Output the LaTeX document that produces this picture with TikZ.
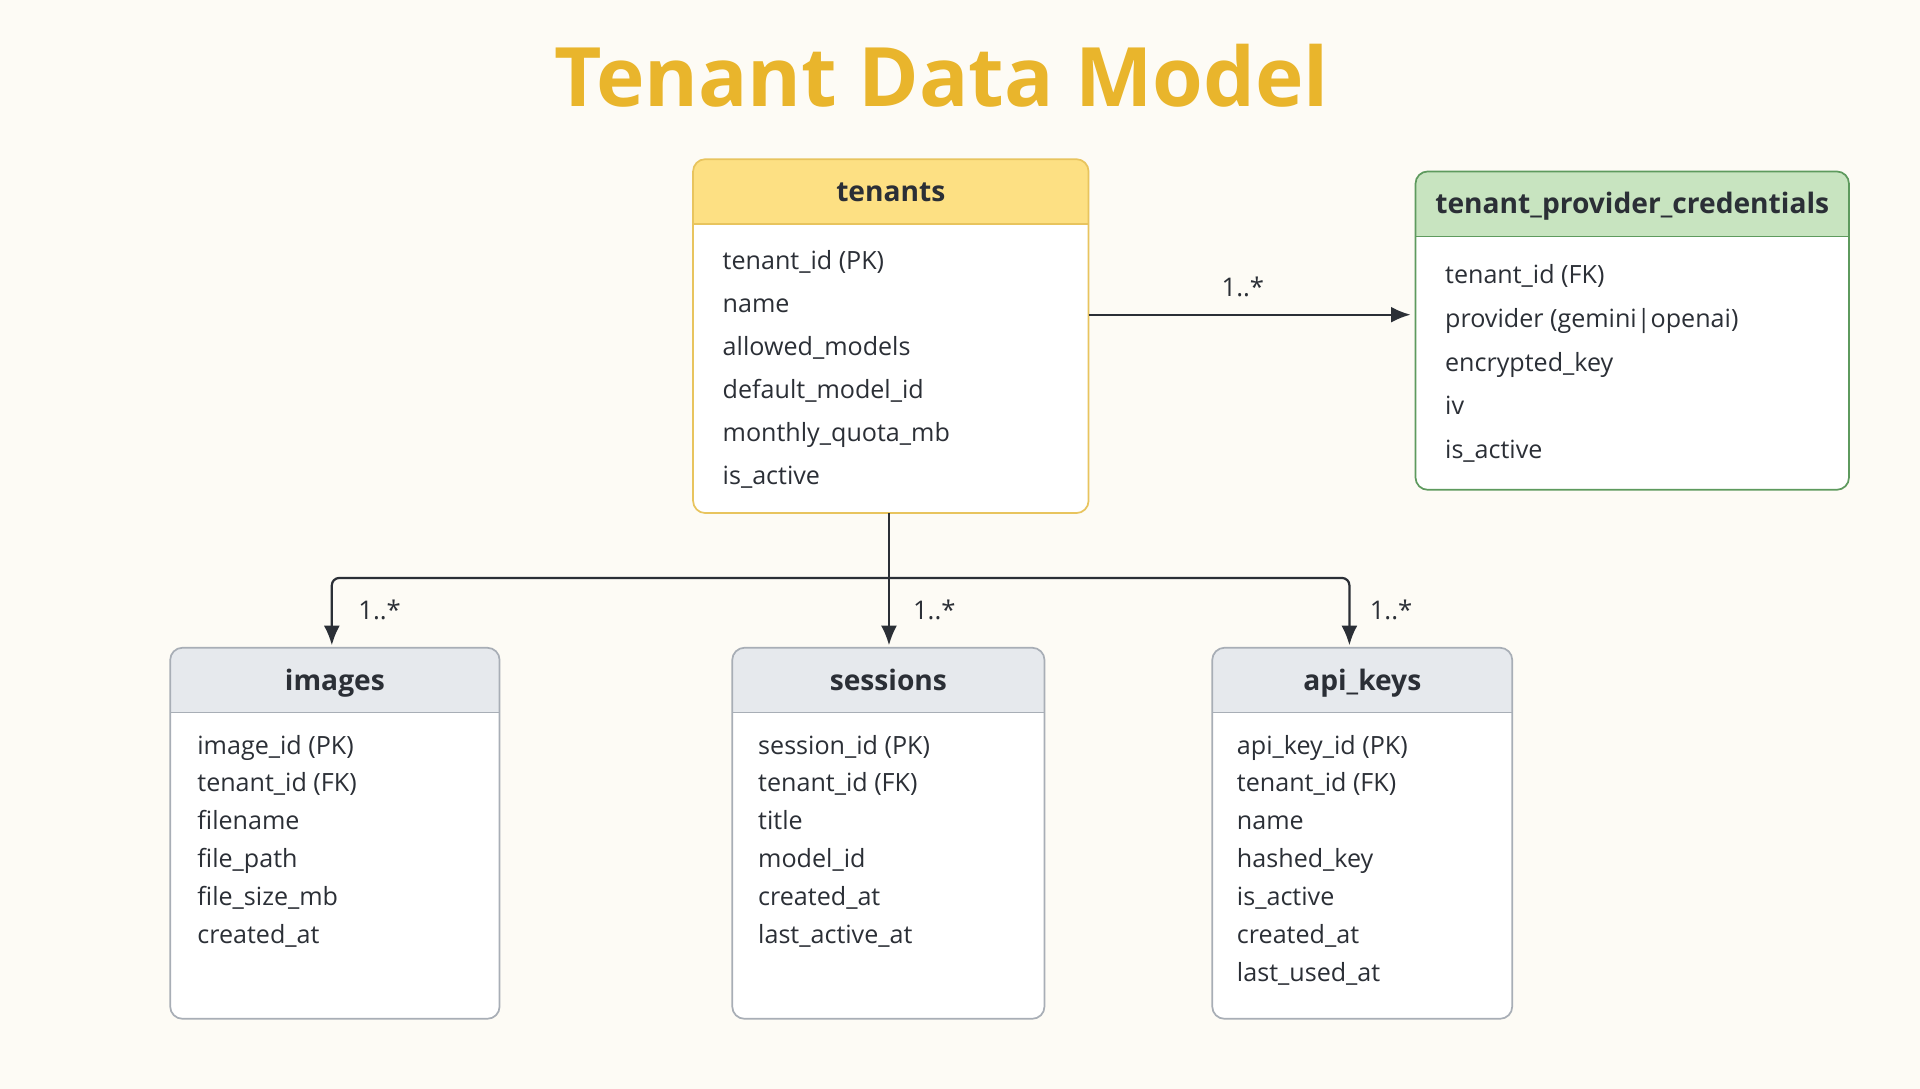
\documentclass[tikz,border=0pt]{standalone}
\usepackage{fontspec}
\setmainfont{Open Sans}
\usetikzlibrary{arrows.meta}
\definecolor{bg}{HTML}{FDFBF5}
\definecolor{ttl}{HTML}{E9B52C}
\definecolor{yhdr}{HTML}{FDE083}
\definecolor{ybrd}{HTML}{E8C45E}
\definecolor{ghdr}{HTML}{C8E4C0}
\definecolor{gbrd}{HTML}{5E9A5E}
\definecolor{shdr}{HTML}{E6E9ED}
\definecolor{sbrd}{HTML}{A8AEB6}
\definecolor{ink}{HTML}{2B2F36}
\tikzset{
  conn/.style={draw=ink, line width=1.8pt, rounded corners=6pt, -{Latex[length=16pt,width=13pt]}},
  lbl/.style={font=\fontsize{21}{21}\selectfont, text=ink},
  rows/.style={anchor=north west, align=left, text=ink, inner sep=0pt},
}
% #1 name #2 x1 #3 y1 #4 x2 #5 y2 #6 yh #7 hdr #8 border #9 title
\newcommand\entbox[9]{%
  \begin{scope}
    \clip[rounded corners=10pt] (#2,#3) rectangle (#4,#5);
    \fill[white] (#2,#3) rectangle (#4,#5);
    \fill[#7] (#2,#3) rectangle (#4,#6);
    \draw[#8, line width=1.2pt] (#2,#6) -- (#4,#6);
  \end{scope}
  \node[draw=#8, line width=1.4pt, rounded corners=10pt, inner sep=0pt,
        minimum width={#4-#2}, minimum height={#5-#3}] (#1) at ({(#2+#4)/2},{(#3+#5)/2}) {};
  \node[font=\fontsize{23}{23}\selectfont\bfseries, text=ink, anchor=base] (#1-title) at ({(#2+#4)/2},{(#3+#6)/2+8}) {#9};
}
\begin{document}
\begin{tikzpicture}[x=1pt,y=-1pt]
\fill[bg] (0,0) rectangle (1568,889);
\useasboundingbox (0,0) rectangle (1568,889);
\node[font=\fontsize{67}{67}\selectfont\bfseries, text=ttl] (title) at (769,62) {Tenant Data Model};

\entbox{tenants}{566}{130}{889}{419}{183}{yhdr}{ybrd}{tenants}
\node[rows, font=\fontsize{20.5}{35.2}\selectfont] (tenants-rows) at (590,204) {tenant\_id (PK)\\name\\allowed\_models\\default\_model\_id\\monthly\_quota\_mb\\is\_active};

\entbox{tpc}{1156}{140}{1510}{400}{193}{ghdr}{gbrd}{tenant\_provider\_credentials}
\node[rows, font=\fontsize{20.5}{35.7}\selectfont] (tpc-rows) at (1180,216) {tenant\_id (FK)\\provider (gemini|openai)\\encrypted\_key\\iv\\is\_active};

\entbox{images}{139}{529}{408}{832}{582}{shdr}{sbrd}{images}
\node[rows, font=\fontsize{20.5}{31}\selectfont] (images-rows) at (161,600) {image\_id (PK)\\tenant\_id (FK)\\filename\\file\_path\\file\_size\_mb\\created\_at};

\entbox{sessions}{598}{529}{853}{832}{582}{shdr}{sbrd}{sessions}
\node[rows, font=\fontsize{20.5}{31}\selectfont] (sessions-rows) at (619,600) {session\_id (PK)\\tenant\_id (FK)\\title\\model\_id\\created\_at\\last\_active\_at};

\entbox{api}{990}{529}{1235}{832}{582}{shdr}{sbrd}{api\_keys}
\node[rows, font=\fontsize{20.5}{31}\selectfont] (api-rows) at (1010,600) {api\_key\_id (PK)\\tenant\_id (FK)\\name\\hashed\_key\\is\_active\\created\_at\\last\_used\_at};

\coordinate (t-out) at (889,257);
\coordinate (tpc-in) at (1152,257);
\draw[conn] (t-out) -- (tpc-in);
\node[lbl] (l0) at (1015,234) {1..*};

\coordinate (t-down) at (726,419);
\coordinate (junc) at (726,472);
\coordinate (img-in) at (271,527);
\coordinate (ses-in) at (726,527);
\coordinate (api-in) at (1102,527);
\draw[conn] (t-down) -- (ses-in);
\draw[conn] (junc) -| (img-in);
\draw[conn] (junc) -| (api-in);
\node[lbl] (l1) at (310,498) {1..*};
\node[lbl] (l2) at (763,498) {1..*};
\node[lbl] (l3) at (1136,498) {1..*};
\end{tikzpicture}
\end{document}
